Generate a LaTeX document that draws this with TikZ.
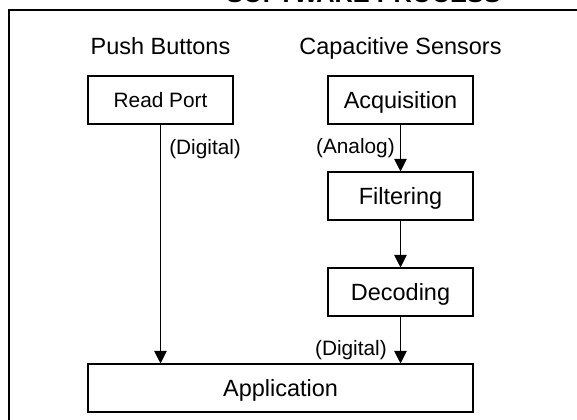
\documentclass[tikz,border=0pt]{standalone}
\usepackage{fontspec}
\setmainfont{Liberation Sans}
\usetikzlibrary{arrows.meta}
\begin{document}
\begin{tikzpicture}[x=0.75pt,y=-0.75pt,line join=miter,
    stage/.style={draw,line width=0.8pt,minimum width=108.75pt,minimum height=36pt,
      inner sep=0pt,text height=12.6pt,text depth=0pt,font=\fontsize{17.6pt}{20pt}\selectfont},
    head/.style={anchor=base,inner sep=0pt,font=\fontsize{17.6pt}{20pt}\selectfont},
    tag/.style={inner sep=0pt,font=\fontsize{15.6pt}{18pt}\selectfont},
    flow/.style={line width=0.8pt,-{Triangle[width=9.5pt,length=9.5pt]}}]
  \useasboundingbox (0,0) rectangle (577,420);
  \clip (0,0) rectangle (577,420);
  % frame and cut-off title
  \draw[line width=1.9pt] (9,430) -- (9,10) -- (590,10);
  \node (title) [anchor=base,inner sep=0pt,font=\fontsize{19pt}{22pt}\selectfont\bfseries]
    at (363.5,2.5) {SOFTWARE PROCESS};
  % columns
  \node (hbut) [head] at (160.5,55) {Push Buttons};
  \node (hsen) [head] at (400.5,55) {Capacitive Sensors};
  \node (rport) [stage,font=\fontsize{15.6pt}{18pt}\selectfont,text height=11.2pt] at (160.5,100) {Read Port};
  \node (acq) [stage] at (400.5,100) {Acquisition};
  \node (filt) [stage] at (400.5,196) {Filtering};
  \node (dec) [stage] at (400.5,292) {Decoding};
  \node (app) [stage,minimum width=288.75pt] at (280.5,388) {Application};
  % connectors
  \draw[flow] (rport.south) -- (rport.south |- app.north);
  \draw[flow] (acq.south) -- (filt.north);
  \draw[flow] (filt.south) -- (dec.north);
  \draw[flow] (dec.south) -- (dec.south |- app.north);
  \node (dig1) [tag,anchor=base west] at (169,155) {(Digital)};
  \node (ana) [tag,anchor=base east] at (395,154) {(Analog)};
  \node (dig2) [tag,anchor=base east] at (387,355) {(Digital)};
\end{tikzpicture}
\end{document}
